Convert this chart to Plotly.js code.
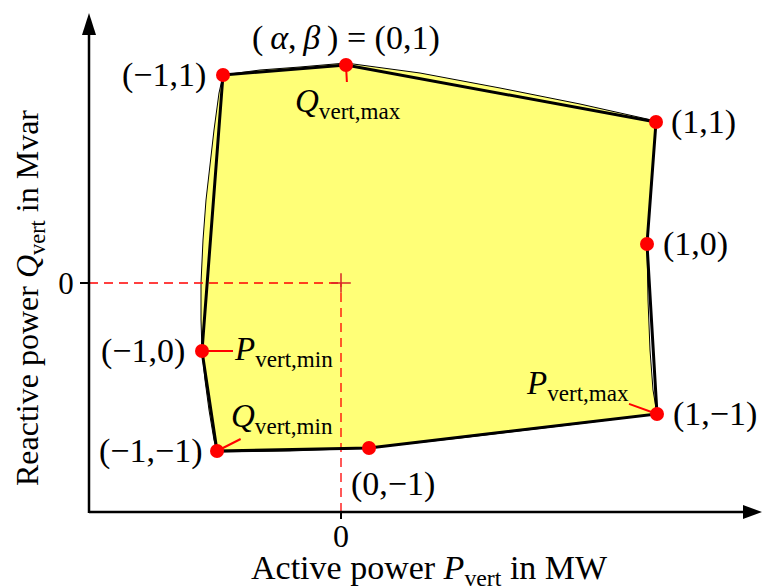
<!DOCTYPE html>
<html><head><meta charset="utf-8">
<script src="https://cdn.plot.ly/plotly-3.0.1.min.js"></script>
<style>html,body{margin:0;padding:0;background:#fff}#chart{width:762px;height:588px}</style>
</head><body><div id="chart"></div>
<script>
// Vertices of the inner approximation, labelled by (alpha, beta)
const vertexLabels = ['(−1,1)', '(\u2009<i>α</i>,\u2009<i>β</i>\u2009) = (0,1)', '(1,1)', '(1,0)', '(1,−1)', '(0,−1)', '(−1,−1)', '(−1,0)'];
const vertexP = [-1.18, 0.05, 3.15, 3.06, 3.16, 0.28, -1.24, -1.39];
const vertexQ = [2.08, 2.18, 1.61, 0.39, -1.31, -1.65, -1.68, -0.68];

// Exact (curved) feasible region boundary
const boundaryP = [-1.18, -0.81, -0.41, 0.05, 0.79, 1.59, 2.39, 3.15,
  3.11, 3.06, 3.07, 3.09, 3.12, 3.16,
  2.19, 1.19, 0.28, -0.51, -1.24,
  -1.27, -1.32, -1.36, -1.39, -1.40, -1.40, -1.38, -1.35, -1.31, -1.27, -1.22, -1.18];
const boundaryQ = [2.08, 2.13, 2.16, 2.20, 2.10, 1.95, 1.79, 1.62,
  1.03, 0.39, -0.17, -0.67, -1.07, -1.31,
  -1.43, -1.55, -1.65, -1.68, -1.69,
  -1.57, -1.27, -0.97, -0.68, -0.37, 0.00, 0.43, 0.83, 1.18, 1.53, 1.90, 2.08];

// Extreme-point names
const extremeNames = ['<i>Q</i><sub>vert,max</sub>', '<i>P</i><sub>vert,min</sub>', '<i>Q</i><sub>vert,min</sub>', '<i>P</i><sub>vert,max</sub>'];
const extremeVertex = [1, 7, 6, 4];

const xTickVals = [0], xTickText = ['0'];
const yTickVals = [0], yTickText = ['0'];
const xRange = [-2.52, 4.21], yRange = [-2.29, 2.70];

// ---- styling / placement (not data) ----
const FONT = '"Liberation Serif", "DejaVu Serif", serif';
const labelPlace = [['right', -15, 0], ['center', 0, 27], ['left', 13, 0], ['left', 14, 0], ['left', 14, 0], ['left', -20, -36], ['right', -12, 0], ['right', -15, 0]];
const extremeOffset = [[2, 38], [81, 0], [65, -33], [-80, -29]];
const M = {l: 89, r: 0, t: 13, b: 76};
const W = 762, H = 588;
const pw = W - M.l - M.r, ph = H - M.t - M.b;
const PX = v => (v - M.l) / pw;
const PY = v => (H - M.b - v) / ph;

const closedP = vertexP.concat([vertexP[0]]);
const closedQ = vertexQ.concat([vertexQ[0]]);

const traces = [
  {x: boundaryP, y: boundaryQ, mode: 'lines', fill: 'toself', fillcolor: '#ffff77',
   line: {color: '#000', width: 1}, hoverinfo: 'skip', showlegend: false},
  {x: [xRange[0], 0], y: [0, 0], mode: 'lines', line: {color: '#ff0000', width: 1.3, dash: '9px,6px'}, showlegend: false},
  {x: [0, 0], y: [yRange[0], 0], mode: 'lines', line: {color: '#ff0000', width: 1.3, dash: '9px,6px'}, showlegend: false},
  {x: [0], y: [0], mode: 'markers', marker: {symbol: 'cross-thin-open', size: 14, line: {color: '#ff0000', width: 1.5}}, showlegend: false},
  {x: closedP, y: closedQ, mode: 'lines', line: {color: '#000', width: 3}, showlegend: false},
  {x: vertexP, y: vertexQ, mode: 'markers', marker: {color: '#ff0000', size: 14}, showlegend: false}
];

const annotations = [];
vertexLabels.forEach((t, i) => {
  annotations.push({x: vertexP[i], y: vertexQ[i], xref: 'x', yref: 'y', text: t, showarrow: false,
    xanchor: labelPlace[i][0], yanchor: 'middle', xshift: labelPlace[i][1], yshift: labelPlace[i][2],
    font: {family: FONT, size: 34, color: '#000'}});
});
extremeNames.forEach((t, k) => {
  const i = extremeVertex[k];
  annotations.push({x: vertexP[i], y: vertexQ[i], xref: 'x', yref: 'y', text: t, showarrow: true,
    arrowhead: 0, arrowwidth: 2, arrowcolor: '#ff0000', standoff: 0,
    ax: extremeOffset[k][0], ay: extremeOffset[k][1], borderpad: 0,
    font: {family: FONT, size: 33, color: '#000'}});
});
// axis titles
annotations.push({x: PX(29), y: PY(298), xref: 'paper', yref: 'paper', text: 'Reactive power <i>Q</i><sub>vert</sub> in Mvar',
  showarrow: false, textangle: -90, xanchor: 'center', yanchor: 'middle', font: {family: FONT, size: 32, color: '#000'}});
annotations.push({x: PX(429), y: PY(570), xref: 'paper', yref: 'paper', text: 'Active power <i>P</i><sub>vert</sub> in MW',
  showarrow: false, xanchor: 'center', yanchor: 'middle', font: {family: FONT, size: 34, color: '#000'}});

// axis lines with arrow heads (decoration, paper coordinates)
const shapes = [
  {type: 'line', xref: 'paper', yref: 'paper', x0: PX(89), y0: PY(512), x1: PX(748), y1: PY(512), line: {color: '#000', width: 2.5}},
  {type: 'line', xref: 'paper', yref: 'paper', x0: PX(89), y0: PY(513), x1: PX(89), y1: PY(30), line: {color: '#000', width: 2.5}},
  {type: 'path', xref: 'paper', yref: 'paper', fillcolor: '#000', line: {width: 0},
   path: `M${PX(762)},${PY(512)} L${PX(743)},${PY(505)} L${PX(743)},${PY(519)} Z`},
  {type: 'path', xref: 'paper', yref: 'paper', fillcolor: '#000', line: {width: 0},
   path: `M${PX(89)},${PY(13)} L${PX(82)},${PY(35)} L${PX(96)},${PY(35)} Z`}
];

const layout = {
  width: W, height: H,
  margin: M,
  paper_bgcolor: '#fff', plot_bgcolor: 'rgba(0,0,0,0)',
  showlegend: false,
  xaxis: {range: xRange, showgrid: false, zeroline: false, showline: false,
    tickvals: xTickVals, ticktext: xTickText, ticks: 'outside', ticklen: 6, tickwidth: 2, tickcolor: '#000',
    ticklabelstandoff: -10,
    tickfont: {family: FONT, size: 32, color: '#000'}},
  yaxis: {range: yRange, showgrid: false, zeroline: false, showline: false,
    tickvals: yTickVals, ticktext: yTickText, ticks: 'outside', ticklen: 8, tickwidth: 2, tickcolor: '#000',
    tickfont: {family: FONT, size: 31, color: '#000'}},
  annotations: annotations,
  shapes: shapes
};

Plotly.newPlot('chart', traces, layout, {staticPlot: true, displayModeBar: false});
</script>
</body></html>
